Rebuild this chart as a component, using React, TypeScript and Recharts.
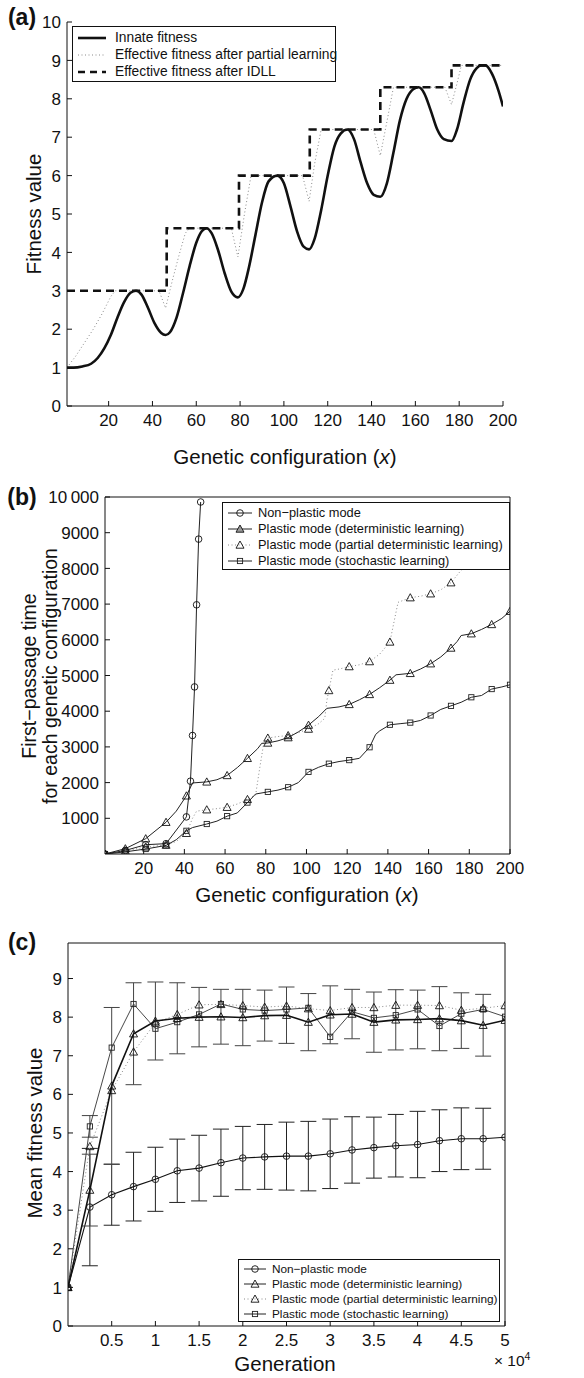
import React from "react"
import { LineChart, Line, XAxis, YAxis, ErrorBar } from "recharts"

const FONT = '"Liberation Sans", Arial, Helvetica, sans-serif'

// (a) fitness landscape
const innateX = [1, 4, 8, 12, 15, 18, 21, 24, 27, 30, 32.5, 35, 38, 41, 44, 46, 48, 51, 54, 57, 60, 62.5, 64.7, 67, 70, 73, 76, 79, 81.5, 84, 87, 90, 93, 97, 100, 103, 106, 109, 111.5, 114, 117, 120, 123, 126, 129, 132, 135, 138, 141, 144, 147, 150, 153, 156, 159, 161.5, 164, 167, 170, 173, 176.5, 179, 182, 185, 188, 190, 192, 195, 198, 200]
const innateY = [1.0, 1.0, 1.03, 1.1, 1.25, 1.5, 1.85, 2.3, 2.7, 2.95, 3.0, 2.9, 2.55, 2.15, 1.9, 1.85, 1.92, 2.3, 2.95, 3.65, 4.25, 4.55, 4.63, 4.5, 4.05, 3.45, 2.98, 2.83, 3.05, 3.6, 4.45, 5.3, 5.85, 6.0, 5.8, 5.2, 4.55, 4.15, 4.08, 4.35, 5.1, 6.0, 6.75, 7.1, 7.2, 6.95, 6.35, 5.8, 5.5, 5.45, 5.8, 6.6, 7.45, 8.0, 8.25, 8.3, 8.15, 7.7, 7.2, 6.95, 6.9, 7.2, 7.9, 8.5, 8.8, 8.87, 8.87, 8.65, 8.2, 7.8]
const partialX = [1, 5, 9, 13, 17, 21, 23, 43, 46, 49, 52, 55, 57, 76, 79, 82, 85, 108.5, 111.5, 114, 117, 141, 144, 147, 150, 173.5, 176.5, 179, 181, 200]
const partialY = [1.0, 1.3, 1.65, 2.0, 2.4, 2.85, 3.0, 3.0, 2.55, 3.25, 3.9, 4.5, 4.63, 4.63, 3.88, 5.0, 6.0, 6.0, 5.33, 6.3, 7.2, 7.2, 6.52, 7.4, 8.3, 8.3, 7.85, 8.4, 8.87, 8.87]
const idllX = [1, 46.5, 79.5, 111.8, 144, 176.5, 200]
const idllY = [3.0, 4.63, 6.0, 7.2, 8.3, 8.87, 8.87]
const aXTicks = [20, 40, 60, 80, 100, 120, 140, 160, 180, 200]
const aYTicks = [0, 1, 2, 3, 4, 5, 6, 7, 8, 9, 10]

// (b) first-passage time
const npBX = [1, 11, 21, 31, 41, 43, 44, 45, 46, 47, 48]
const npBY = [0, 100, 260, 290, 1040, 2040, 3320, 4680, 6980, 8820, 9860]
const detBX = [1, 11, 21, 31, 36, 41, 44, 51, 56, 61, 66, 71, 76, 78, 81, 86, 91, 96, 101, 106, 110, 116, 121, 126, 131, 136, 141, 144, 151, 156, 161, 166, 171, 174, 176, 181, 186, 191, 196, 200]
const detBY = [0, 150, 430, 890, 1200, 1630, 1990, 2020, 2080, 2200, 2420, 2680, 2950, 3100, 3110, 3170, 3260, 3420, 3610, 3850, 4080, 4120, 4190, 4320, 4470, 4660, 4870, 5020, 5060, 5180, 5330, 5520, 5770, 5950, 6120, 6170, 6290, 6430, 6600, 6800]
const partBX = [1, 11, 21, 31, 36, 41, 44, 46, 51, 56, 61, 66, 71, 75, 77, 79, 81, 86, 91, 96, 101, 106, 109, 110, 111, 113, 116, 121, 126, 131, 136, 141, 143, 145, 151, 156, 161, 166, 171, 176, 181, 186, 191, 196, 200]
const partBY = [0, 80, 200, 250, 350, 580, 1000, 1200, 1240, 1270, 1310, 1400, 1530, 1650, 2400, 3100, 3250, 3290, 3320, 3400, 3500, 3650, 3800, 4300, 4580, 5150, 5180, 5250, 5300, 5390, 5600, 5940, 6500, 7050, 7180, 7220, 7290, 7400, 7600, 7950, 8200, 8350, 8500, 8650, 8800]
const stoBX = [1, 11, 21, 31, 36, 41, 44, 51, 56, 61, 66, 71, 75, 81, 86, 91, 96, 101, 106, 111, 116, 121, 126, 131, 134, 136, 141, 146, 151, 156, 161, 166, 171, 176, 181, 186, 191, 196, 200]
const stoBY = [0, 60, 140, 240, 400, 650, 740, 840, 920, 1060, 1150, 1440, 1680, 1740, 1790, 1870, 2000, 2300, 2430, 2530, 2590, 2630, 2680, 2990, 3350, 3450, 3620, 3650, 3680, 3740, 3880, 4050, 4150, 4250, 4390, 4440, 4620, 4680, 4740]
const bMarkX = [1, 11, 21, 31, 41, 51, 61, 71, 81, 91, 101, 111, 121, 131, 141, 151, 161, 171, 181, 191, 200]
const bXTicks = [20, 40, 60, 80, 100, 120, 140, 160, 180, 200]
const bYTicks = [1000, 2000, 3000, 4000, 5000, 6000, 7000, 8000, 9000, 10000]

// (c) mean fitness over generations
const gens = [0, 2500, 5000, 7500, 10000, 12500, 15000, 17500, 20000, 22500, 25000, 27500, 30000, 32500, 35000, 37500, 40000, 42500, 45000, 47500, 50000]
const npMean = [1, 3.08, 3.4, 3.61, 3.8, 4.02, 4.09, 4.23, 4.35, 4.38, 4.4, 4.4, 4.46, 4.56, 4.62, 4.67, 4.7, 4.8, 4.85, 4.85, 4.89]
const npErr = [null, 1.52, 0.79, 0.89, 0.83, 0.82, 0.85, 0.87, 0.82, 0.84, 0.88, 0.9, 0.9, 0.86, 0.79, 0.81, 0.86, 0.8, 0.8, 0.79, null]
const detMean = [1, 3.52, 6.22, 7.57, 7.9, 7.97, 8.0, 8.01, 7.99, 8.04, 8.05, 7.87, 8.06, 8.08, 7.87, 7.93, 7.94, 7.96, 7.91, 7.79, 7.92]
const detErr = [null, 0.93, 2.03, 1.32, 1.01, 0.92, 0.77, 0.71, 0.73, 0.66, 0.73, 0.74, 0.75, 0.64, 0.78, 0.78, 0.76, 0.83, 0.72, 0.8, null]
const partMean = [1, 4.65, 6.1, 7.1, 7.85, 8.07, 8.32, 8.33, 8.3, 8.26, 8.29, 8.22, 8.17, 8.25, 8.25, 8.31, 8.31, 8.3, 8.18, 8.23, 8.3]
const stoMean = [1, 5.17, 7.21, 8.34, 7.7, 7.87, 8.07, 8.34, 8.2, 8.17, 8.2, 8.24, 7.49, 8.14, 7.98, 8.05, 8.2, 7.77, 8.09, 8.2, 8.01]
const stoErr = [null, 0.28, null, null, null, null, null, null, null, null, null, null, null, null, null, null, null, null, null, null, null]
const cXTicks = [5000, 10000, 15000, 20000, 25000, 30000, 35000, 40000, 45000, 50000]
const cYTicks = [0, 1, 2, 3, 4, 5, 6, 7, 8, 9]

const zip = (xs: number[], ys: number[]) => xs.map((x, i) => ({ x, y: ys[i] }))

const cRows = gens.map((g, i) => ({
  g,
  np: npMean[i], npE: npErr[i],
  det: detMean[i], detE: detErr[i],
  part: partMean[i],
  sto: stoMean[i], stoE: stoErr[i],
}))

// markers
function Ring({ cx, cy }: any) {
  return <circle cx={cx} cy={cy} r={3.3} fill="none" stroke="#111" strokeWidth={0.9} />
}
function Tri({ cx, cy, fill = "none", stroke = "#111" }: any) {
  const s = 4
  return <polygon points={`${cx},${cy - s} ${cx - s},${cy + s * 0.8} ${cx + s},${cy + s * 0.8}`} fill={fill} stroke={stroke} strokeWidth={0.9} />
}
function Sq({ cx, cy }: any) {
  return <rect x={cx - 2.6} y={cy - 2.6} width={5.2} height={5.2} fill="none" stroke="#222" strokeWidth={0.9} />
}

const every = (Shape: any, extra: any = {}) => (p: any) =>
  <Shape key={`m${p.index}`} cx={p.cx} cy={p.cy} {...extra} />
const onlyAt = (xs: number[], Shape: any, extra: any = {}) => (p: any) =>
  xs.includes(p.payload.x)
    ? <Shape key={`m${p.index}`} cx={p.cx} cy={p.cy} {...extra} />
    : <g key={`m${p.index}`} />

// tick labels with an explicit size
const TICK_SIZE = 17
const xTick = (fmt: (v: number) => string = String) => (p: any) => (
  <text x={p.x} y={p.y} dy="0.75em" textAnchor="middle" fontSize={TICK_SIZE} fill="#111">{fmt(p.payload.value)}</text>
)
const yTick = (fmt: (v: number) => string = String) => (p: any) => (
  <text x={p.x} y={p.y} dy="0.36em" textAnchor="end" fontSize={TICK_SIZE} fill="#111">{fmt(p.payload.value)}</text>
)

const abs = (left: number, top: number, extra: any = {}) => ({ position: "absolute" as const, left, top, ...extra })

function VText({ x, y, size, children }: any) {
  return (
    <div style={abs(x, y, { transform: "translate(-50%,-50%) rotate(-90deg)", whiteSpace: "nowrap", fontSize: size, lineHeight: 1, color: "#111" })}>
      {children}
    </div>
  )
}
function HText({ x, y, size, children, bold }: any) {
  return (
    <div style={abs(x, y, { transform: "translate(-50%,-50%)", whiteSpace: "nowrap", fontSize: size, lineHeight: 1, color: "#111", fontWeight: bold ? 700 : 400 })}>
      {children}
    </div>
  )
}

function Sample({ w, line, marker }: any) {
  return (
    <svg width={w} height={12} style={{ display: "block", flex: "none" }}>
      <line x1={1} x2={w - 1} y1={6} y2={6} {...line} />
      {marker}
    </svg>
  )
}

function LegendBox({ left, top, width, height, rows, fontSize, rowH, padTop, sampleW, gap }: any) {
  return (
    <div style={abs(left, top, { width, height, boxSizing: "border-box", border: "1.3px solid #111", background: "#fff", paddingTop: padTop, paddingLeft: 4 })}>
      {rows.map((r: any, i: number) => (
        <div key={i} style={{ display: "flex", alignItems: "center", height: rowH, fontSize, whiteSpace: "nowrap", color: "#111" }}>
          <Sample w={sampleW} line={r.line} marker={r.marker} />
          <span style={{ marginLeft: gap }}>{r.label}</span>
        </div>
      ))}
    </div>
  )
}

export default function App() {
  const black = "#111"
  const axisProps = { stroke: black, tickSize: -5, allowDataOverflow: true, type: "number" as const, interval: 0 as const }
  const lineBase = { isAnimationActive: false, activeDot: false as const }
  const thou = (v: number) => (v === 10000 ? "10\u2009000" : String(v))
  return (
    <div style={{ position: "relative", width: 584, height: 1378, background: "#fff", fontFamily: FONT, overflow: "hidden" }}>
      <style>{`body{margin:0}`}</style>

      {/* (a) */}
      <div style={abs(0, 0)}>
        <LineChart width={584} height={480} margin={{ top: 22, right: 81, bottom: 44, left: 0 }}>
          <XAxis {...axisProps} dataKey="x" domain={[1, 200]} ticks={aXTicks} height={30} tickMargin={12} tick={xTick()} />
          <YAxis {...axisProps} domain={[0, 10]} ticks={aYTicks} width={67} tickMargin={11} tick={yTick()} />
          <Line {...lineBase} data={zip(partialX, partialY)} dataKey="y" type="linear" stroke="#8a8a8a" strokeWidth={1} strokeDasharray="1 2.5" dot={false} />
          <Line {...lineBase} data={zip(innateX, innateY)} dataKey="y" type="monotone" stroke={black} strokeWidth={2.6} dot={false} />
          <Line {...lineBase} data={zip(idllX, idllY)} dataKey="y" type="stepAfter" stroke={black} strokeWidth={2.6} strokeDasharray="8 5" dot={false} />
        </LineChart>
      </div>
      <HText x={22} y={17} size={23} bold>(a)</HText>
      <VText x={34} y={214} size={20.5}>Fitness value</VText>
      <HText x={285} y={457} size={20.5}>Genetic configuration (<i>x</i>)</HText>
      <LegendBox
        left={72} top={26} width={264} height={56} fontSize={13.8} rowH={17} padTop={2} sampleW={30} gap={8}
        rows={[
          { label: "Innate fitness", line: { stroke: black, strokeWidth: 2.6 } },
          { label: "Effective fitness after partial learning", line: { stroke: "#8a8a8a", strokeWidth: 1, strokeDasharray: "1 2.5" } },
          { label: "Effective fitness after IDLL", line: { stroke: black, strokeWidth: 2.6, strokeDasharray: "7 5" } },
        ]}
      />

      {/* (b) */}
      <div style={abs(0, 480)}>
        <LineChart width={584} height={420} margin={{ top: 16, right: 73, bottom: 16, left: 0 }}>
          <XAxis {...axisProps} dataKey="x" domain={[1, 200]} ticks={bXTicks} height={30} tickMargin={12} tick={xTick()} />
          <XAxis {...axisProps} xAxisId="top" dataKey="x" orientation="top" domain={[1, 200]} ticks={bXTicks} height={1} tick={false} />
          <YAxis {...axisProps} domain={[0, 10000]} ticks={bYTicks} width={105} tickMargin={11} tick={yTick(thou)} />
          <YAxis {...axisProps} yAxisId="right" orientation="right" domain={[0, 10000]} ticks={bYTicks} width={1} tick={false} />
          {/* frame: invisible copy bound to the top and right axes */}
          <Line {...lineBase} xAxisId="top" yAxisId="right" data={zip(stoBX, stoBY)} dataKey="y" stroke="none" dot={false} legendType="none" />
          <Line {...lineBase} data={zip(partBX, partBY)} dataKey="y" stroke="#8a8a8a" strokeWidth={1} strokeDasharray="1 2.5" dot={onlyAt(bMarkX, Tri)} />
          <Line {...lineBase} data={zip(stoBX, stoBY)} dataKey="y" stroke="#222" strokeWidth={1} dot={onlyAt(bMarkX, Sq)} />
          <Line {...lineBase} data={zip(detBX, detBY)} dataKey="y" stroke="#222" strokeWidth={1} dot={onlyAt(bMarkX, Tri)} />
          <Line {...lineBase} data={zip(npBX, npBY)} dataKey="y" stroke="#222" strokeWidth={1} dot={every(Ring)} />
        </LineChart>
      </div>
      <HText x={22} y={497} size={23} bold>(b)</HText>
      <VText x={30} y={676} size={19.5}>First−passage time</VText>
      <VText x={51} y={676} size={19.5}>for each genetic configuration</VText>
      <HText x={307} y={895} size={20.5}>Genetic configuration (<i>x</i>)</HText>
      <LegendBox
        left={222} top={502} width={288} height={68} fontSize={12.8} rowH={16} padTop={1.5} sampleW={26} gap={5}
        rows={[
          { label: "Non−plastic mode", line: { stroke: "#222", strokeWidth: 1 }, marker: <Ring cx={13} cy={6} /> },
          { label: "Plastic mode (deterministic learning)", line: { stroke: "#222", strokeWidth: 1 }, marker: <Tri cx={13} cy={6} fill="#999" /> },
          { label: "Plastic mode (partial deterministic learning)", line: { stroke: "#8a8a8a", strokeWidth: 1, strokeDasharray: "1 2.5" }, marker: <Tri cx={13} cy={6} /> },
          { label: "Plastic mode (stochastic learning)", line: { stroke: "#222", strokeWidth: 1 }, marker: <Sq cx={13} cy={6} /> },
        ]}
      />

      {/* (c) */}
      <div style={abs(0, 900)}>
        <LineChart width={584} height={478} data={cRows} margin={{ top: 42, right: 78, bottom: 22, left: 0 }}>
          <XAxis {...axisProps} dataKey="g" domain={[0, 50000]} ticks={cXTicks} height={30} tickMargin={12}
            tick={xTick((v: number) => String(v / 10000))} />
          <XAxis {...axisProps} xAxisId="top" dataKey="g" orientation="top" domain={[0, 50000]} ticks={cXTicks} height={1} tick={false} />
          <YAxis {...axisProps} domain={[0, 9.92]} ticks={cYTicks} width={68} tickMargin={11} tick={yTick()} />
          <YAxis {...axisProps} yAxisId="right" orientation="right" domain={[0, 9.92]} ticks={cYTicks} width={1} tick={false} />
          {/* frame: invisible copy bound to the top and right axes */}
          <Line {...lineBase} xAxisId="top" yAxisId="right" dataKey="np" stroke="none" dot={false} legendType="none" />
          <Line {...lineBase} dataKey="np" stroke="#111" strokeWidth={1.1} dot={every(Ring)}>
            <ErrorBar dataKey="npE" width={8} stroke="#222" strokeWidth={1} direction="y" />
          </Line>
          <Line {...lineBase} dataKey="part" stroke="#8a8a8a" strokeWidth={1} strokeDasharray="1 2.5" dot={every(Tri)} />
          <Line {...lineBase} dataKey="sto" stroke="#333" strokeWidth={0.9} dot={every(Sq)}>
            <ErrorBar dataKey="stoE" width={8} stroke="#444" strokeWidth={1} direction="y" />
          </Line>
          <Line {...lineBase} dataKey="det" stroke="#111" strokeWidth={1.6} dot={every(Tri)}>
            <ErrorBar dataKey="detE" width={8} stroke="#444" strokeWidth={1} direction="y" />
          </Line>
        </LineChart>
      </div>
      <HText x={22} y={942} size={23} bold>(c)</HText>
      <VText x={35} y={1133} size={20.5}>Mean fitness value</VText>
      <HText x={285} y={1364} size={20.5}>Generation</HText>
      <div style={abs(494, 1350, { fontSize: 15.5, color: "#111", whiteSpace: "nowrap" })}>
        × 10<sup style={{ fontSize: 10.5 }}>4</sup>
      </div>
      <LegendBox
        left={238} top={1259} width={262} height={63} fontSize={11.8} rowH={15} padTop={1} sampleW={24} gap={5}
        rows={[
          { label: "Non−plastic mode", line: { stroke: "#222", strokeWidth: 1 }, marker: <Ring cx={12} cy={6} /> },
          { label: "Plastic mode (deterministic learning)", line: { stroke: "#222", strokeWidth: 1 }, marker: <Tri cx={12} cy={6} /> },
          { label: "Plastic mode (partial deterministic learning)", line: { stroke: "#8a8a8a", strokeWidth: 1, strokeDasharray: "1 2.5" }, marker: <Tri cx={12} cy={6} /> },
          { label: "Plastic mode (stochastic learning)", line: { stroke: "#222", strokeWidth: 1 }, marker: <Sq cx={12} cy={6} /> },
        ]}
      />
    </div>
  )
}
